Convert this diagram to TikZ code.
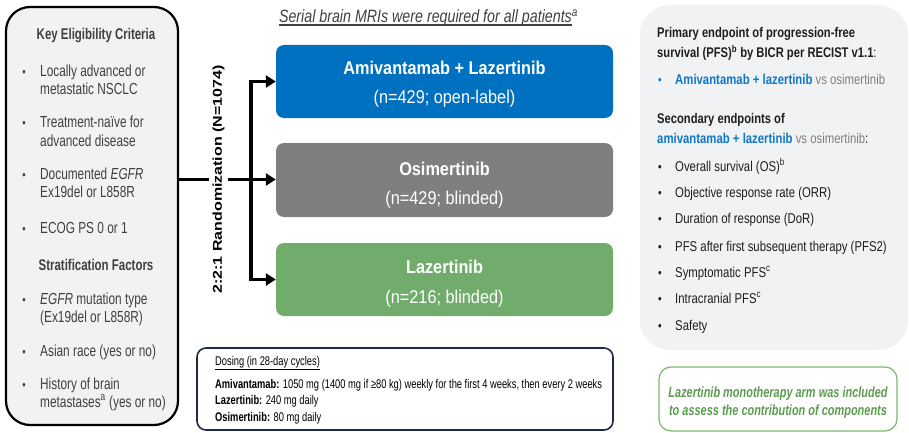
\documentclass[tikz,border=0pt]{standalone}
\usepackage{fontspec}
\usepackage{graphicx}
\setmainfont{Liberation Sans}
\newfontfamily\narrowsf{Liberation Sans}[FakeStretch=0.74]
\newfontfamily\midsf{Liberation Sans}[FakeStretch=0.8]
\newfontfamily\armsf{Liberation Sans}[FakeStretch=0.88]
\usetikzlibrary{arrows.meta}

\definecolor{txtgray}{HTML}{404040}
\definecolor{critfill}{HTML}{F2F2F2}
\definecolor{armblue}{HTML}{0070C0}
\definecolor{armgray}{HTML}{7F7F7F}
\definecolor{armgreen}{HTML}{71AC6C}
\definecolor{panelfill}{HTML}{F1F2F4}
\definecolor{linkblue}{HTML}{0F78CC}
\definecolor{vsgray}{HTML}{7F7F7F}
\definecolor{bodyblack}{HTML}{1E1E1E}
\definecolor{notegreen}{HTML}{5C9C50}
\definecolor{noteedge}{HTML}{7DB56F}
\definecolor{dosenavy}{HTML}{1F2A48}

\newcommand{\bul}{{\fontsize{13}{13}\selectfont\textbullet}}
\newcommand{\thickul}[1]{\setbox0=\hbox{#1}\leavevmode\rlap{\rule[-2.6pt]{\wd0}{1.1pt}}\box0}

\begin{document}
\begin{tikzpicture}[x=1pt,y=-1pt,
  critbox/.style={draw=black, line width=2.2pt, fill=critfill, rounded corners=24pt,
    minimum width=172pt, minimum height=418pt, inner sep=0pt},
  endpanel/.style={fill=panelfill, rounded corners=30pt, minimum width=268pt,
    minimum height=345pt, inner sep=0pt},
  armbox/.style={rounded corners=8pt, minimum width=337pt, minimum height=73pt, inner sep=0pt},
  dosebox/.style={draw=dosenavy, line width=1.6pt, rounded corners=9pt,
    minimum width=416pt, minimum height=82pt, inner sep=0pt},
  notebox/.style={draw=noteedge, line width=1.2pt, rounded corners=12pt,
    minimum width=238pt, minimum height=64pt, inner sep=0pt},
  crittext/.style={anchor=base west, inner sep=0pt, text=txtgray,
    font=\narrowsf\fontsize{16}{18}\selectfont},
  crithead/.style={anchor=base, inner sep=0pt, text=txtgray,
    font=\narrowsf\bfseries\fontsize{15.5}{18}\selectfont},
  critdot/.style={anchor=base, inner sep=0pt, text=txtgray, font=\narrowsf},
  armtitle/.style={anchor=base, inner sep=0pt, text=white,
    font=\armsf\bfseries\fontsize{18.5}{22}\selectfont},
  armsub/.style={anchor=base, inner sep=0pt, text=white,
    font=\armsf\fontsize{18.5}{22}\selectfont},
  randlabel/.style={rotate=90, inner sep=3.2pt, text=black,
    font=\bfseries\fontsize{16}{18}\selectfont},
  flow/.style={line width=3.5pt, draw=black},
  tip/.style={-{Triangle[length=10pt,width=12pt]}},
  headline/.style={anchor=base, inner sep=0pt, text=txtgray,
    font=\midsf\itshape\fontsize{17.8}{20}\selectfont},
  dosetext/.style={anchor=base west, inner sep=0pt, text=black,
    font=\narrowsf\fontsize{12.6}{15}\selectfont},
  endhead/.style={anchor=base west, inner sep=0pt, text=bodyblack,
    font=\midsf\bfseries\fontsize{14}{17}\selectfont},
  endtext/.style={anchor=base west, inner sep=0pt, text=bodyblack,
    font=\midsf\fontsize{14.2}{17}\selectfont},
  enddot/.style={anchor=base, inner sep=0pt, text=bodyblack, font=\midsf},
  notetext/.style={anchor=base, inner sep=0pt, text=notegreen,
    font=\narrowsf\bfseries\itshape\fontsize{14.8}{17}\selectfont}
]
\useasboundingbox (0,0) rectangle (909,433);

% ---- eligibility panel ----
\node[critbox] (crit) at (92,216) {};
\node[crithead] (crit-h1) at (96,40) {Key Eligibility Criteria};
\node[critdot] (cd1) at (24,77) {\bul};
\node[crittext] (c1a) at (40,77) {Locally advanced or};
\node[crittext] (c1b) at (40,95) {metastatic NSCLC};
\node[critdot] (cd2) at (24,128) {\bul};
\node[crittext] (c2a) at (40,128) {Treatment-naïve for};
\node[crittext] (c2b) at (40,146) {advanced disease};
\node[critdot] (cd3) at (24,179) {\bul};
\node[crittext] (c3a) at (40,179) {Documented \textit{EGFR}};
\node[crittext] (c3b) at (40,197) {Ex19del or L858R};
\node[critdot] (cd4) at (24,233) {\bul};
\node[crittext] (c4a) at (40,233) {ECOG PS 0 or 1};
\node[crithead] (crit-h2) at (96,270) {Stratification Factors};
\node[critdot] (cd5) at (24,304) {\bul};
\node[crittext] (c5a) at (40,304) {\textit{EGFR} mutation type};
\node[crittext] (c5b) at (40,322) {(Ex19del or L858R)};
\node[critdot] (cd6) at (24,356) {\bul};
\node[crittext] (c6a) at (40,356) {Asian race (yes or no)};
\node[critdot] (cd7) at (24,389) {\bul};
\node[crittext] (c7a) at (40,389) {History of brain};
\node[crittext] (c7b) at (40,407) {metastases\textsuperscript{a} (yes or no)};

% ---- heading over the arms ----
\node[headline] (mri) at (428.5,23)
  {\thickul{Serial brain MRIs were required for all patients}\textsuperscript{a}};

% ---- treatment arms ----
\node[armbox, fill=armblue] (amilaz) at (444.5,81.5) {};
\node[armtitle] (amilaz-t) at (444.5,75) {Amivantamab + Lazertinib};
\node[armsub] (amilaz-n) at (444.5,103) {(n=429; open-label)};

\node[armbox, fill=armgray, minimum height=74pt] (osi) at (444.5,180) {};
\node[armtitle] (osi-t) at (444.5,175) {Osimertinib};
\node[armsub] (osi-n) at (444.5,204) {(n=429; blinded)};

\node[armbox, fill=armgreen] (laz) at (444.5,279.5) {};
\node[armtitle] (laz-t) at (444.5,273) {Lazertinib};
\node[armsub] (laz-n) at (444.5,303) {(n=216; blinded)};

% ---- randomization ----
\node[randlabel] (rand) at (218.5,179.5) {\scalebox{1}[0.8]{2:2:1 Randomization (N=1074)}};
\coordinate (jtop) at (251,81.5);
\coordinate (jbot) at (251,279.5);
\draw[flow] (crit.east |- rand.center) -- (rand);
\draw[flow, tip] (rand) -- (rand.center -| osi.west);
\draw[flow, {Triangle[length=10pt,width=12pt]}-{Triangle[length=10pt,width=12pt]}]
  (jtop -| amilaz.west) -- (jtop) -- (jbot) -- (jbot -| laz.west);

% ---- dosing ----
\node[dosebox] (dose) at (405,389) {};
\node[dosetext] (dose-h) at (215,365) {\underline{Dosing (in 28-day cycles)}};
\node[dosetext] (dose-a) at (215,388)
  {\textbf{Amivantamab:} 1050 mg (1400 mg if ≥80 kg) weekly for the first 4 weeks, then every 2 weeks};
\node[dosetext] (dose-l) at (215,404.5) {\textbf{Lazertinib:} 240 mg daily};
\node[dosetext] (dose-o) at (215,421) {\textbf{Osimertinib:} 80 mg daily};

% ---- endpoints ----
\node[endpanel] (endp) at (774,177.5) {};
\node[endhead] (p1) at (657,38) {Primary endpoint of progression-free};
\node[endhead] (p2) at (657,58)
  {survival (PFS)\textsuperscript{b} by BICR per RECIST v1.1{\mdseries :}};
\node[enddot, text=linkblue] (pd) at (660,85) {\bul};
\node[endtext] (p3) at (675,85)
  {\textcolor{linkblue}{\bfseries Amivantamab + lazertinib} \textcolor{vsgray}{vs osimertinib}};
\node[endhead] (s1) at (657,123) {Secondary endpoints of};
\node[endtext] (s2) at (657,143)
  {\textcolor{linkblue}{\bfseries amivantamab + lazertinib} \textcolor{vsgray}{vs osimertinib}:};
\node[enddot] (sd1) at (660,171) {\bul};
\node[endtext] (s3) at (675,171) {Overall survival (OS)\textsuperscript{b}};
\node[enddot] (sd2) at (660,197) {\bul};
\node[endtext] (s4) at (675,197) {Objective response rate (ORR)};
\node[enddot] (sd3) at (660,223) {\bul};
\node[endtext] (s5) at (675,223) {Duration of response (DoR)};
\node[enddot] (sd4) at (660,251) {\bul};
\node[endtext] (s6) at (675,251) {PFS after first subsequent therapy (PFS2)};
\node[enddot] (sd5) at (660,277) {\bul};
\node[endtext] (s7) at (675,277) {Symptomatic PFS\textsuperscript{c}};
\node[enddot] (sd6) at (660,303) {\bul};
\node[endtext] (s8) at (675,303) {Intracranial PFS\textsuperscript{c}};
\node[enddot] (sd7) at (660,330) {\bul};
\node[endtext] (s9) at (675,330) {Safety};

% ---- monotherapy note ----
\node[notebox] (note) at (778,399) {};
\node[notetext] (note-a) at (778,397) {Lazertinib monotherapy arm was included};
\node[notetext] (note-b) at (778,415) {to assess the contribution of components};
\end{tikzpicture}
\end{document}
